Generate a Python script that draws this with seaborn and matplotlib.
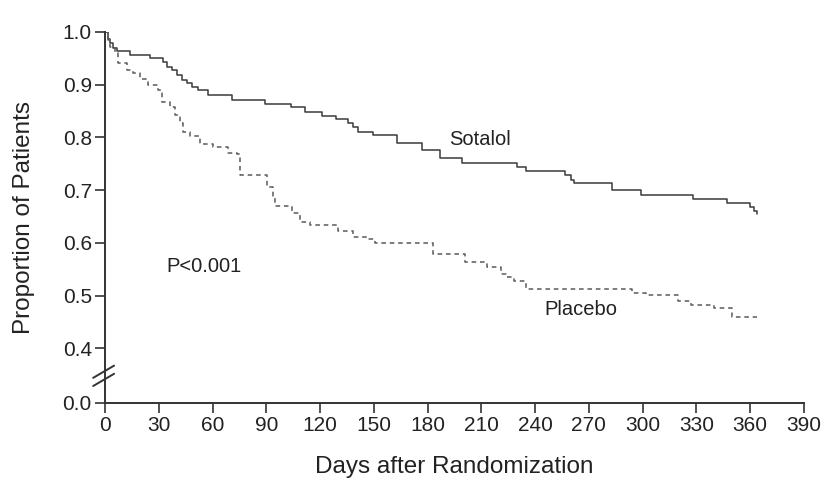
import numpy as np
import pandas as pd
import matplotlib
matplotlib.use("Agg")
import matplotlib.pyplot as plt
import seaborn as sns

# Kaplan-Meier curves (days, proportion event-free)
sotalol_days = [0, 1.9, 2.8, 4.6, 6.5, 14, 25, 32.6, 34.4, 37.2, 40, 42.8, 45.6, 48.4, 52,
                57.7, 70.7, 89.3, 104, 111.6, 121, 129, 135.8, 138.5, 141.3, 149.7, 162.7,
                176.7, 187, 199, 229.7, 235, 256.7, 260, 262, 282.7, 299.4, 328.3, 346.9,
                360, 362, 364]
sotalol_prop = [1.0, 0.987, 0.978, 0.969, 0.963, 0.956, 0.950, 0.943, 0.934, 0.927, 0.918,
                0.909, 0.902, 0.896, 0.890, 0.880, 0.871, 0.863, 0.857, 0.848, 0.840, 0.835,
                0.827, 0.819, 0.811, 0.804, 0.789, 0.776, 0.761, 0.751, 0.744, 0.737, 0.728,
                0.720, 0.714, 0.700, 0.691, 0.684, 0.675, 0.667, 0.660, 0.655]

placebo_days = [0, 1.5, 2.8, 5.6, 7.4, 12.1, 15.8, 19.5, 24.2, 29.7, 31.6, 36.3, 39, 41.9,
                43.7, 47.4, 53, 60, 68.8, 73.5, 75.3, 90.2, 93.9, 94.9, 104.2, 108.8, 114.4,
                130.2, 138.5, 146, 150.7, 183, 200.9, 213, 221, 224, 228, 235, 294, 302,
                320, 327, 340, 350, 364]
placebo_prop = [1.0, 0.984, 0.972, 0.959, 0.940, 0.927, 0.921, 0.910, 0.899, 0.890, 0.867,
                0.858, 0.842, 0.827, 0.811, 0.802, 0.787, 0.782, 0.770, 0.768, 0.729, 0.706,
                0.688, 0.670, 0.656, 0.640, 0.634, 0.623, 0.612, 0.607, 0.599, 0.579, 0.564,
                0.555, 0.540, 0.536, 0.527, 0.512, 0.505, 0.501, 0.489, 0.482, 0.476, 0.460,
                0.460]

x_ticks = list(range(0, 391, 30))
y_ticks = [0.0, 0.4, 0.5, 0.6, 0.7, 0.8, 0.9, 1.0]
y_ticklabels = ["0.0", "0.4", "0.5", "0.6", "0.7", "0.8", "0.9", "1.0"]

df = pd.concat([
    pd.DataFrame({"Days": sotalol_days, "Prop": sotalol_prop, "Group": "Sotalol"}),
    pd.DataFrame({"Days": placebo_days, "Prop": placebo_prop, "Group": "Placebo"}),
])

sns.set_style("ticks")
plt.rcParams["font.family"] = ["Liberation Sans", "DejaVu Sans"]


# broken y axis: 0.0-0.4 squeezed into a short stretch
def fwd(y):
    y = np.asarray(y, dtype=float)
    return np.where(y < 0.4, y * 0.103 / 0.4, 0.103 + (y - 0.4))


def inv(y):
    y = np.asarray(y, dtype=float)
    return np.where(y < 0.103, y * 0.4 / 0.103, y - 0.103 + 0.4)


fig = plt.figure(figsize=(8.25, 4.78), dpi=100)
ax = fig.add_axes([0.1273, 0.1575, 0.847, 0.776])
ax.set_yscale("function", functions=(fwd, inv))

sns.lineplot(data=df, x="Days", y="Prop", hue="Group", style="Group",
             palette={"Sotalol": "#3a3a3a", "Placebo": "#5a5a5a"},
             dashes={"Sotalol": "", "Placebo": (3, 2.5)},
             estimator=None, sort=False, drawstyle="steps-post",
             linewidth=1.1, legend=False, ax=ax)

ax.set_xlim(0, 390)
ax.set_ylim(0, 1.0)
ax.set_xticks(x_ticks)
ax.set_yticks(y_ticks)
ax.set_yticklabels(y_ticklabels)
ax.yaxis.set_minor_locator(matplotlib.ticker.NullLocator())
sns.despine(ax=ax)
for s in ["left", "bottom"]:
    ax.spines[s].set_linewidth(1.4)
    ax.spines[s].set_color("#333333")
ax.tick_params(axis="both", direction="out", length=7, width=1.2, color="#333333",
               labelsize=15, labelcolor="#222222", pad=2.5)

# break marks on the y axis
for off in (0.0, 0.022):
    ax.plot([-0.017, 0.013], [0.045 + off, 0.078 + off], transform=ax.transAxes,
            color="#333333", lw=1.4, clip_on=False)

ax.set_xlabel("Days after Randomization", fontsize=17.5, color="#222222", labelpad=15)
ax.set_ylabel("Proportion of Patients", fontsize=17.5, color="#222222", labelpad=20)

ax.text(192, 0.795, "Sotalol", fontsize=14.5, va="center", color="#222222")
ax.text(245, 0.474, "Placebo", fontsize=14.5, va="center", color="#222222")
ax.text(34, 0.556, "P<0.001", fontsize=14.5, va="center", color="#222222")

fig.savefig("out.png", dpi=100, facecolor="white")
